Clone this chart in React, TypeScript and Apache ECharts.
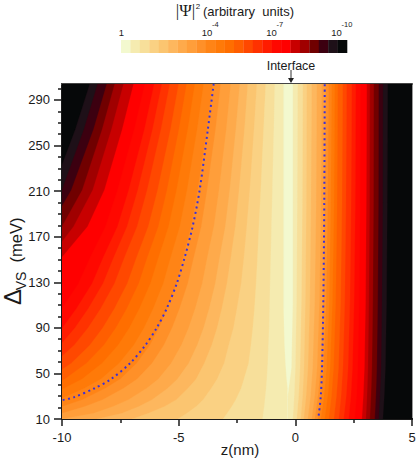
import React, { useEffect, useRef } from "react";
import * as echarts from "echarts";

const levelColors = ["#F3F9CF","#F5EBB0","#F7DF9A","#FAD183","#FBC570","#FDB75E","#FEAA4B","#FF9E3A","#FF9028","#FF8416","#FF7A08","#FF6E00","#FF5E00","#FF4800","#FF3200","#FF1C00","#FF0800","#FF0000","#C80000","#A00000","#700000","#3C0010","#1E1018","#060809"];

const leftDelta = [304,264,211,179,152,129,107,90,75,59,45,37,27,21,15,10];
const rightDelta = [10,30,55,114,200,304];

// z of the left edge of each band, at the Δ of leftDelta; rows past the frame are left out
const leftZ = [
  [-0.5,-0.5,-0.5,-0.5,-0.5,-0.5,-0.5,-0.48,-0.46,-0.42,-0.37,-0.33,-0.33,-0.33,-0.33,-0.33],
  [-0.88,-0.92,-0.98,-1.02,-1.05,-1.08,-1.1,-1.12,-1.15,-1.18,-1.22,-1.25,-1.3,-1.33,-1.37,-1.4],
  [-1.27,-1.36,-1.48,-1.56,-1.62,-1.68,-1.75,-1.82,-1.9,-2,-2.2,-2.32,-2.55,-2.72,-2.92,-3.1],
  [-1.65,-1.77,-1.95,-2.08,-2.2,-2.32,-2.5,-2.65,-2.85,-3.05,-3.35,-3.6,-3.95,-4.25,-4.65,-5.04],
  [-2.04,-2.18,-2.41,-2.57,-2.76,-2.93,-3.15,-3.35,-3.58,-3.9,-4.25,-4.6,-5.1,-5.6,-6.3,-7],
  [-2.38,-2.55,-2.81,-3,-3.24,-3.43,-3.69,-3.93,-4.2,-4.57,-5.05,-5.47,-6.14,-6.71,-7.43,-8.5],
  [-2.77,-2.96,-3.27,-3.49,-3.77,-3.99,-4.29,-4.57,-4.88,-5.32,-5.87,-6.37,-7.15,-7.81,-8.64,-10],
  [-3.2,-3.42,-3.78,-4.03,-4.35,-4.61,-4.96,-5.28,-5.63,-6.14,-6.78,-7.36,-8.26,-9.02,-10],
  [-3.54,-3.79,-4.18,-4.46,-4.81,-5.1,-5.49,-5.84,-6.23,-6.8,-7.5,-8.14,-9.13,-9.98],
  [-3.93,-4.21,-4.64,-4.95,-5.34,-5.66,-6.09,-6.48,-6.92,-7.55,-8.33,-9.04,-10.14],
  [-4.31,-4.61,-5.09,-5.43,-5.86,-6.21,-6.68,-7.11,-7.59,-8.28,-9.14,-9.91],
  [-4.66,-4.99,-5.5,-5.87,-6.34,-6.71,-7.22,-7.69,-8.2,-8.95,-9.88,-10.72],
  [-5,-5.35,-5.9,-6.3,-6.8,-7.2,-7.75,-8.25,-8.8,-9.6,-10.6],
  [-5.38,-5.76,-6.35,-6.78,-7.32,-7.75,-8.34,-8.88,-9.47,-10.33],
  [-5.72,-6.12,-6.75,-7.21,-7.78,-8.24,-8.87,-9.44,-10.07],
  [-6.05,-6.47,-7.14,-7.62,-8.23,-8.71,-9.38,-9.98,-10.65],
  [-6.46,-6.91,-7.62,-8.14,-8.79,-9.3,-10.01,-10.66],
  [-6.93,-7.42,-8.18,-8.9,-10,-10.67],
  [-7.36,-7.88,-8.68,-9.5,-10.5],
  [-7.74,-8.28,-9.13,-10],
  [-8.08,-8.65,-9.6,-10.5],
  [-8.47,-9.06,-10],
  [-8.81,-9.43,-10.4],
];

// z of the right edge of each band, at the Δ of rightDelta
const rightZ = [
  [-0.33,-0.33,-0.17,-0.11,-0.11,-0.11],
  [-0.11,-0.05,0,0.05,0.08,0.1],
  [0.06,0.14,0.2,0.26,0.3,0.32],
  [0.23,0.31,0.37,0.43,0.47,0.49],
  [0.36,0.46,0.54,0.62,0.67,0.7],
  [0.53,0.65,0.74,0.83,0.89,0.92],
  [0.7,0.83,0.93,1.03,1.1,1.13],
  [0.83,0.97,1.08,1.19,1.26,1.3],
  [0.96,1.1,1.21,1.32,1.39,1.43],
  [1.09,1.23,1.34,1.45,1.52,1.56],
  [1.26,1.39,1.49,1.59,1.66,1.69],
  [1.43,1.55,1.64,1.73,1.79,1.82],
  [1.65,1.76,1.85,1.94,2,2.03],
  [1.86,1.96,2.04,2.12,2.17,2.2],
  [2.07,2.18,2.26,2.34,2.39,2.42],
  [2.29,2.38,2.45,2.52,2.57,2.59],
  [2.55,2.63,2.68,2.74,2.78,2.8],
  [2.85,2.91,2.96,3.01,3.04,3.06],
  [3.02,3.07,3.11,3.15,3.18,3.19],
  [3.19,3.24,3.28,3.32,3.35,3.36],
  [3.4,3.45,3.49,3.53,3.56,3.57],
  [3.57,3.62,3.67,3.71,3.74,3.75],
  [3.75,3.81,3.86,3.91,3.94,3.96],
];

const leftDotted = [[-9.97,26.7],[-9.5,29],[-8.6,37],[-7.9,45],[-7.08,59],[-6.42,75],[-5.94,90],[-5.51,107],[-5.08,129],[-4.74,152],[-4.4,179],[-4.1,211],[-3.75,264],[-3.5,304]];
const rightDotted = [[1.0,13],[1.09,30],[1.145,55],[1.2,114],[1.24,200],[1.26,304]];

const xMajor = [-10,-5,0,5];
const xMinor = [-7.5,-2.5,2.5];
const yMajor = [10,50,90,130,170,210,250,290];
const yMinor = [20,30,40,60,70,80,100,110,120,140,150,160,180,190,200,220,230,240,260,270,280,300];
const barLabels = [
  { base: "1", sup: "", x: 121.5 },
  { base: "10", sup: "-4", x: 207 },
  { base: "10", sup: "-7", x: 271.5 },
  { base: "10", sup: "-10", x: 336.5 },
];

const FONT = '"Liberation Sans", Arial, sans-serif';
const INK = "#1a1a1a";

export default function App() {
  const ref = useRef<HTMLDivElement>(null);
  useEffect(() => {
    const chart = echarts.init(ref.current!, undefined, { renderer: "svg" });
    const graphics: any[] = [];
    const cw = (347 - 121) / levelColors.length;
    levelColors.forEach((c, i) => {
      graphics.push({ type: "rect", shape: { x: 121 + i * cw, y: 40, width: cw + 0.3, height: 13 }, style: { fill: c } });
    });
    barLabels.forEach((l) => {
      graphics.push({ type: "text", x: l.x, y: 32, style: { text: l.base, font: `9.5px ${FONT}`, fill: INK, textAlign: "center", textVerticalAlign: "middle" } });
      if (l.sup) graphics.push({ type: "text", x: l.x + 5, y: 24.5, style: { text: l.sup, font: `7.5px ${FONT}`, fill: INK, textAlign: "left", textVerticalAlign: "middle" } });
    });
    graphics.push(
      { type: "text", x: 185.5, y: 10.5, style: { text: "|Ψ|", font: '17px "Liberation Serif", serif', fill: INK, textAlign: "center", textVerticalAlign: "middle" } },
      { type: "text", x: 198, y: 6, style: { text: "2", font: `8px ${FONT}`, fill: INK, textAlign: "center", textVerticalAlign: "middle" } },
      { type: "text", x: 203, y: 11, style: { text: "(arbitrary  units)", font: `13px ${FONT}`, fill: INK, textAlign: "left", textVerticalAlign: "middle" } },
      { type: "text", x: 291, y: 65.5, style: { text: "Interface", font: `12.5px ${FONT}`, fill: INK, textAlign: "center", textVerticalAlign: "middle" } },
      { type: "line", shape: { x1: 291, y1: 70, x2: 291, y2: 79 }, style: { stroke: "#333", lineWidth: 1 } },
      { type: "polygon", shape: { points: [[288, 78], [294, 78], [291, 83]] }, style: { fill: "#222" } },
      { type: "text", x: 12, y: 297, rotation: Math.PI / 2, style: { text: "Δ", font: `24px ${FONT}`, fill: INK, textAlign: "center", textVerticalAlign: "middle" } },
      { type: "text", x: 20.5, y: 281, rotation: Math.PI / 2, style: { text: "VS", font: `14px ${FONT}`, fill: INK, textAlign: "center", textVerticalAlign: "middle" } },
      { type: "text", x: 16, y: 240, rotation: Math.PI / 2, style: { text: "(meV)", font: `16.5px ${FONT}`, fill: INK, textAlign: "center", textVerticalAlign: "middle" } },
      { type: "text", x: 240, y: 449, style: { text: "z(nm)", font: `15px ${FONT}`, fill: INK, textAlign: "center", textVerticalAlign: "middle" } },
    );

    const hidden = { show: false };
    const line = { show: true, onZero: false, lineStyle: { color: INK, width: 2 } };
    const xTicks = (values: number[], length: number) => ({
      type: "value", min: -10, max: 5, position: "bottom",
      axisLine: line,
      axisTick: { show: true, inside: false, length, customValues: values, lineStyle: { color: INK, width: 1.5 } },
      axisLabel: hidden, splitLine: hidden,
    });
    const yTicks = (values: number[], length: number) => ({
      type: "value", min: 10, max: 304, position: "left",
      axisLine: line,
      axisTick: { show: true, inside: false, length, customValues: values, lineStyle: { color: INK, width: 1.5 } },
      axisLabel: hidden, splitLine: hidden,
    });
    chart.setOption({
      animation: false,
      textStyle: { fontFamily: FONT },
      grid: { left: 62, top: 84, width: 350, height: 335, outerBoundsMode: "none", containLabel: false },
      xAxis: [
        {
          type: "value", min: -10, max: 5, interval: 5, position: "bottom",
          axisLine: line,
          axisTick: hidden,
          axisLabel: { fontSize: 13, color: INK, margin: 12, fontFamily: FONT, formatter: (v: number) => String(v) },
          splitLine: hidden,
        },
        {
          type: "value", min: -10, max: 5, position: "top",
          axisLine: { show: true, onZero: false, lineStyle: { color: "#444", width: 2 } },
          axisTick: hidden, axisLabel: hidden, splitLine: hidden,
        },
        xTicks(xMajor, 7),
        xTicks(xMinor, 4),
      ],
      yAxis: [
        {
          type: "value", min: 10, max: 304, position: "left",
          axisLine: line,
          axisTick: hidden,
          axisLabel: { fontSize: 13, color: INK, margin: 12, fontFamily: FONT, customValues: yMajor },
          splitLine: hidden,
        },
        yTicks(yMajor, 8),
        yTicks(yMinor, 4),
        {
          type: "value", min: 10, max: 304, position: "right",
          axisLine: { show: true, onZero: false, lineStyle: { color: "#999", width: 1 } },
          axisTick: hidden, axisLabel: hidden, splitLine: hidden,
        },
      ],
      graphic: { elements: graphics },
      series: [
        {
          type: "custom",
          clip: true,
          xAxisIndex: 0, yAxisIndex: 0,
          data: levelColors.map((_, i) => [levelColors.length - 1 - i]),
          encode: { x: [], y: [] },
          silent: true,
          z: 1,
          renderItem: (_p: any, api: any) => {
            const color = api.value(0);
            let pts: number[][];
            if (color === levelColors.length - 1) {
              pts = [[-10, 10], [5, 10], [5, 304], [-10, 304]];
            } else {
              const lz = leftZ[color];
              const rz = rightZ[color];
              pts = [
                ...leftDelta.map((d, i) => [lz[i] ?? -11, d]),
                ...rightDelta.map((d, i) => [rz[i], d]),
              ];
            }
            return {
              type: "polygon",
              shape: { points: pts.map((p) => api.coord(p)) },
              style: { fill: levelColors[color], stroke: levelColors[color], lineWidth: 0.3 },
            };
          },
        },
        ...[leftDotted, rightDotted].map((d) => ({
          type: "line",
          data: d,
          xAxisIndex: 0, yAxisIndex: 0,
          showSymbol: false,
          symbol: "none",
          z: 5,
          smooth: 0.3,
          clip: true,
          lineStyle: { color: "#3a30d8", width: 2, type: [2, 3.4] },
        })),
      ],
    });
    return () => chart.dispose();
  }, []);
  return <div ref={ref} style={{ position: "absolute", left: 0, top: 0, width: 416, height: 458 }} />;
}
